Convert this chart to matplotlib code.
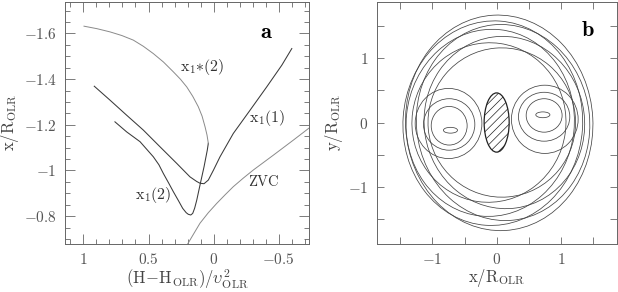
import matplotlib
matplotlib.use("Agg")
import matplotlib.pyplot as plt
from matplotlib.patches import Ellipse
from matplotlib.ticker import MultipleLocator

plt.rcParams['mathtext.fontset'] = 'cm'
plt.rcParams['hatch.linewidth'] = 0.5

# ---- panel a: characteristic diagram ----
x11_h = [0.917, 0.796, 0.668, 0.54, 0.412, 0.283, 0.181, 0.13, 0.104, 0.073, 0.04, 0.0,
         -0.05, -0.152, -0.281, -0.409, -0.525, -0.602]
x11_x = [-1.369, -1.308, -1.242, -1.177, -1.104, -1.031, -0.972, -0.952, -0.944, -0.942,
         -0.958, -1.002, -1.06, -1.162, -1.264, -1.366, -1.461, -1.534]

x12_h = [0.758, 0.668, 0.565, 0.463, 0.42, 0.386, 0.345, 0.309, 0.27, 0.237, 0.21, 0.194,
         0.175, 0.16, 0.145, 0.129, 0.104, 0.073, 0.048, 0.04]
x12_x = [-1.213, -1.169, -1.126, -1.06, -1.025, -0.987, -0.945, -0.907, -0.868, -0.834,
         -0.815, -0.808, -0.805, -0.812, -0.835, -0.87, -0.936, -1.016, -1.089, -1.119]

x1s_h = [0.996, 0.896, 0.796, 0.705, 0.617, 0.54, 0.463, 0.385, 0.309, 0.255, 0.206,
         0.16, 0.117, 0.088, 0.065, 0.05, 0.04]
x1s_x = [-1.632, -1.621, -1.607, -1.591, -1.571, -1.544, -1.512, -1.475, -1.432, -1.4,
         -1.366, -1.325, -1.279, -1.238, -1.191, -1.155, -1.119]

zvc_h = [0.2, 0.15, 0.104, 0.04, -0.025, -0.09, -0.152, -0.23, -0.306, -0.46, -0.614, -0.742]
zvc_x = [-0.677, -0.725, -0.769, -0.815, -0.856, -0.894, -0.929, -0.967, -1.002, -1.067,
         -1.133, -1.189]

a_xticks = [1, 0.5, 0, -0.5]
a_xlabels = ['$1$', '$0.5$', '$0$', '$-0.5$']
a_yticks = [-1.6, -1.4, -1.2, -1.0, -0.8]
a_ylabels = ['$-1.6$', '$-1.4$', '$-1.2$', '$-1$', '$-0.8$']

# ---- panel b: orbits (ellipse centre x, centre y, width, height, tilt) ----
big_cx = [0.04, -0.06, 0.10, -0.10, 0.12, -0.12, 0.08]
big_cy = [-0.005, -0.01, 0.0, -0.005, 0.0, 0.0, 0.0]
big_w = [2.92, 2.80, 2.70, 2.62, 2.50, 2.40, 2.30]
big_h = [3.35, 3.18, 3.05, 2.91, 2.68, 2.48, 2.32]
big_tilt = [3, -4, 6, -6, 8, -8, 5]

right_cx = [0.72, 0.74, 0.74, 0.75]
right_cy = [0.12, 0.11, 0.09, 0.05]
right_w = [0.22, 0.56, 0.80, 1.04]
right_h = [0.09, 0.52, 0.76, 1.06]

left_cx = [-0.72, -0.74, -0.74, -0.75]
left_cy = [-0.12, -0.05, -0.03, -0.015]
left_w = [0.22, 0.56, 0.80, 1.04]
left_h = [0.09, 0.6, 0.8, 1.09]

bar_w, bar_h = 0.39, 0.92

b_ticks = [-1.5, -1, -0.5, 0, 0.5, 1, 1.5]
b_labels = ['', '$-1$', '', '$0$', '', '$1$', '']

ink = '#3a3a3a'
light = '#8a8a8a'
orb = '#444444'
frame = '#666666'
tcol = '#555555'

fig = plt.figure(figsize=(6.18, 2.92), dpi=100)
ax = fig.add_axes([0.1052, 0.166, 0.3956, 0.8288])
bx = fig.add_axes([0.6095, 0.166, 0.3883, 0.8288])

ax.plot(x11_h, x11_x, color=ink, lw=0.75)
ax.plot(x12_h, x12_x, color=ink, lw=0.75)
ax.plot(x1s_h, x1s_x, color=light, lw=0.7)
ax.plot(zvc_h, zvc_x, color=light, lw=0.7)

ax.text(-0.41, -1.607, r'$\mathbf{a}$', fontsize=16, ha='center', va='center')
ax.text(0.088, -1.454, r'$\mathrm{x_1{*}(2)}$', fontsize=11.5, ha='center', va='center', color='#333')
ax.text(-0.41, -1.228, r'$\mathrm{x_1(1)}$', fontsize=11.5, ha='center', va='center', color='#333')
ax.text(-0.383, -0.95, r'$\mathrm{ZVC}$', fontsize=10.5, ha='center', va='center', color='#333')
ax.text(0.463, -0.892, r'$\mathrm{x_1(2)}$', fontsize=11.5, ha='center', va='center', color='#333')

ax.set_xlim(1.142, -0.738)
ax.set_ylim(-0.68, -1.74)
ax.set_xticks(a_xticks)
ax.set_xticklabels(a_xlabels)
ax.set_yticks(a_yticks)
ax.set_yticklabels(a_ylabels)
ax.xaxis.set_minor_locator(MultipleLocator(0.1))
ax.yaxis.set_minor_locator(MultipleLocator(0.05))
ax.set_xlabel(r'$\mathrm{(H\!-\!H_{OLR})/\upsilon^2_{OLR}}$', fontsize=12, color='#444', labelpad=0)
ax.set_ylabel(r'$\mathrm{x/R_{OLR}}$', fontsize=12, color='#444', labelpad=2)

for e in range(len(big_w)):
    bx.add_patch(Ellipse((big_cx[e], big_cy[e]), big_w[e], big_h[e], angle=big_tilt[e],
                         fill=False, lw=0.55, ec=orb))
for e in range(len(right_w)):
    bx.add_patch(Ellipse((right_cx[e], right_cy[e]), right_w[e], right_h[e], fill=False, lw=0.55, ec=orb))
    bx.add_patch(Ellipse((left_cx[e], left_cy[e]), left_w[e], left_h[e], fill=False, lw=0.55, ec=orb))
bx.add_patch(Ellipse((0, 0), bar_w, bar_h, fill=False, lw=0.9, ec='#222', hatch='////'))

bx.text(1.42, 1.44, r'$\mathbf{b}$', fontsize=16, ha='center', va='center')
bx.set_xlim(-1.87, 1.87)
bx.set_ylim(-1.88, 1.88)
bx.set_xticks(b_ticks)
bx.set_xticklabels(b_labels)
bx.set_yticks(b_ticks)
bx.set_yticklabels(b_labels)
bx.set_xlabel(r'$\mathrm{x/R_{OLR}}$', fontsize=12, color='#444', labelpad=0)
bx.set_ylabel(r'$\mathrm{y/R_{OLR}}$', fontsize=12, color='#444', labelpad=2)

for a in (ax, bx):
    a.tick_params(which='both', direction='in', top=True, right=True, colors=frame,
                  labelcolor=tcol, labelsize=11, pad=6)
    a.tick_params(which='major', length=7, width=0.6)
    a.tick_params(which='minor', length=3.5, width=0.6)
    for s in a.spines.values():
        s.set_color(frame)
        s.set_linewidth(0.7)
bx.tick_params(which='major', length=5)

fig.savefig('out.png', dpi=100)
